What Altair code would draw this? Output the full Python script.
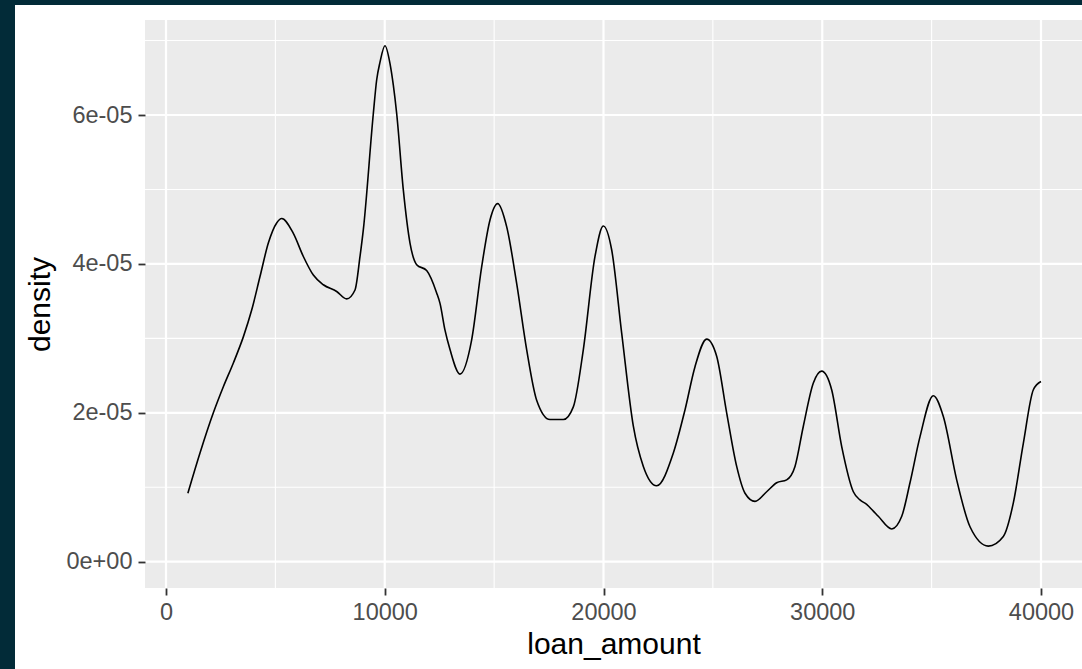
import altair as alt
import pandas as pd

# density curve
loan_amount = [1000, 1554, 2164, 2621, 3079, 3535, 3917, 4297, 4678, 5059, 5288, 5821,
               6278, 6735, 7192, 7802, 8259, 8640, 8869, 9021, 9478, 9630, 9783, 10011,
               10240, 10392, 10545, 10850, 11154, 11459, 11916, 12373, 12526, 12754, 12983,
               13440, 13973, 14430, 14811, 15162, 15573, 16030, 16487, 16944, 17554, 18164,
               18621, 19078, 19611, 19992, 20373, 20831, 21364, 21821, 22431, 23192, 23726,
               24183, 24716, 25173, 25630, 26088, 26469, 26926, 27459, 27916, 28373, 28754,
               29135, 29592, 29973, 30430, 30887, 31421, 31726, 32030, 32335, 32562, 33177,
               33634, 34011, 34469, 35078, 35535, 36145, 36754, 37592, 38278, 38735, 39192,
               39650, 40000]
density = [0.92e-5, 1.46e-5, 2.00e-5, 2.35e-5, 2.67e-5, 3.02e-5, 3.38e-5, 3.83e-5, 4.28e-5,
           4.55e-5, 4.61e-5, 4.41e-5, 4.10e-5, 3.85e-5, 3.72e-5, 3.63e-5, 3.53e-5, 3.65e-5,
           4.10e-5, 4.46e-5, 6.02e-5, 6.47e-5, 6.71e-5, 6.93e-5, 6.69e-5, 6.40e-5, 6.02e-5,
           4.99e-5, 4.28e-5, 3.99e-5, 3.91e-5, 3.61e-5, 3.47e-5, 3.11e-5, 2.85e-5, 2.52e-5,
           2.98e-5, 3.96e-5, 4.59e-5, 4.81e-5, 4.50e-5, 3.74e-5, 2.85e-5, 2.17e-5, 1.91e-5,
           1.91e-5, 2.08e-5, 2.85e-5, 4.10e-5, 4.51e-5, 4.19e-5, 3.07e-5, 1.82e-5, 1.28e-5,
           1.02e-5, 1.46e-5, 2.04e-5, 2.62e-5, 2.99e-5, 2.76e-5, 2.00e-5, 1.28e-5, 0.92e-5,
           0.81e-5, 0.94e-5, 1.06e-5, 1.10e-5, 1.28e-5, 1.82e-5, 2.40e-5, 2.56e-5, 2.31e-5,
           1.55e-5, 0.94e-5, 0.83e-5, 0.77e-5, 0.68e-5, 0.61e-5, 0.44e-5, 0.61e-5, 1.06e-5,
           1.68e-5, 2.23e-5, 1.95e-5, 1.10e-5, 0.47e-5, 0.21e-5, 0.34e-5, 0.79e-5, 1.59e-5,
           2.31e-5, 2.42e-5]

x_major = [0, 10000, 20000, 30000, 40000]
x_minor = [5000, 15000, 25000, 35000]
y_major = [0, 2e-5, 4e-5, 6e-5]
y_minor = [1e-5, 3e-5, 5e-5, 7e-5]

W, H = 937, 568
FONT = "Liberation Sans"

df = pd.DataFrame({"loan_amount": loan_amount, "density": density})

xscale = alt.Scale(domain=[-960, 41874], nice=False, zero=False)
yscale = alt.Scale(domain=[-0.353e-5, 7.276e-5], nice=False, zero=False)

xaxis = alt.Axis(values=x_major, format="d", grid=False, domain=False,
                 tickColor="#333333", tickWidth=1.8, tickSize=7,
                 labelColor="#4D4D4D", labelFont=FONT, labelFontSize=23.5,
                 labelPadding=5, labelFlush=False, labelOverlap=False,
                 titleFont=FONT, titleFontSize=30, titleFontWeight="normal",
                 titleColor="black", titlePadding=6, zindex=1)
yaxis = alt.Axis(values=y_major, grid=False, domain=False,
                 labelExpr="datum.value == 0 ? '0e+00' : round(datum.value * 100000) + 'e-05'",
                 tickColor="#333333", tickWidth=1.8, tickSize=7,
                 labelColor="#4D4D4D", labelFont=FONT, labelFontSize=23.5,
                 labelPadding=6, labelOverlap=False,
                 titleFont=FONT, titleFontSize=30, titleFontWeight="normal",
                 titleColor="black", titlePadding=10, zindex=1)

X = alt.X("loan_amount:Q", scale=xscale, title="loan_amount", axis=xaxis)
Y = alt.Y("density:Q", scale=yscale, title="density", axis=yaxis)

one = alt.Data(values=[{"a": 1}])

white_panel = alt.Chart(one).mark_rect(color="white", clip=False).encode(
    x=alt.value(-130), x2=alt.value(W + 10), y=alt.value(-15), y2=alt.value(H + 90)
)
gray_panel = alt.Chart(one).mark_rect(color="#EBEBEB").encode(
    x=alt.value(0), x2=alt.value(W), y=alt.value(0), y2=alt.value(H)
)

vminor = alt.Chart(pd.DataFrame({"loan_amount": x_minor})).mark_rule(
    color="white", strokeWidth=1.1).encode(x=X)
vmajor = alt.Chart(pd.DataFrame({"loan_amount": x_major})).mark_rule(
    color="white", strokeWidth=2.2).encode(x=X)
hminor = alt.Chart(pd.DataFrame({"density": y_minor})).mark_rule(
    color="white", strokeWidth=1.1).encode(y=Y)
hmajor = alt.Chart(pd.DataFrame({"density": y_major})).mark_rule(
    color="white", strokeWidth=2.2).encode(y=Y)

line = alt.Chart(df).mark_line(color="black", strokeWidth=1.6, interpolate="monotone").encode(
    x=X, y=Y)

chart = alt.layer(white_panel, gray_panel, vminor, hminor, vmajor, hmajor, line).properties(
    width=W, height=H,
    autosize=alt.AutoSizeParams(type="none"),
    padding={"left": 145, "top": 20, "right": 0, "bottom": 81},
    background="#022b38",
).configure_view(stroke=None)

chart.save("out.html", embed_options={"renderer": "svg", "actions": False})
